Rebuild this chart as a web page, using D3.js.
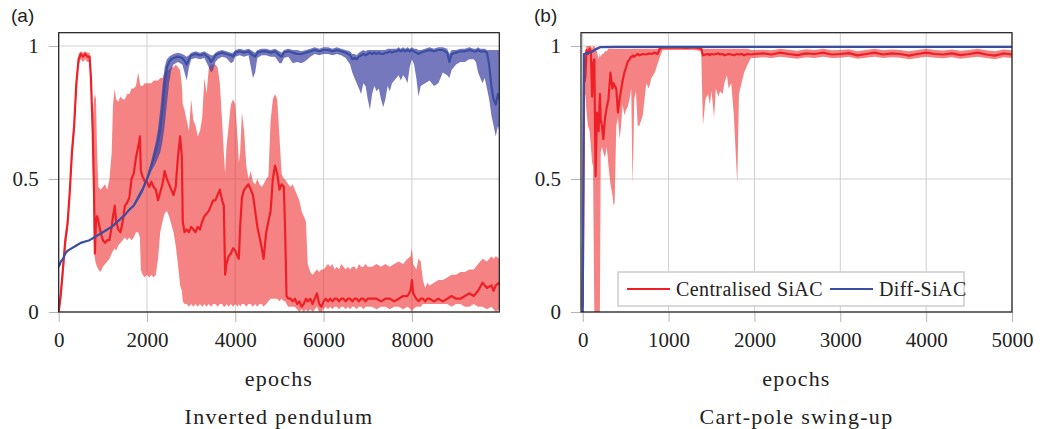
<!DOCTYPE html>
<html>
<head>
<meta charset="utf-8">
<script src="https://cdn.jsdelivr.net/npm/d3@7"></script>
<style>
  body { margin: 0; background: #fff; }
  svg { display: block; }
</style>
</head>
<body>
<div id="chart"></div>
<script>
// ---- data: inverted pendulum (a) ----
const pendRedX = [0,50,100,150,200,250,300,350,400,450,
  500,550,600,650,700,730,770,800,820,845,
  870,900,950,1000,1050,1100,1150,1200,1230,1270,
  1300,1350,1400,1450,1500,1550,1600,1650,1700,1750,
  1800,1840,1860,1900,1950,2000,2050,2100,2150,2200,
  2250,2300,2350,2400,2450,2500,2550,2600,2650,2700,
  2750,2790,2810,2850,2900,2950,3000,3050,3100,3150,
  3200,3250,3300,3350,3400,3450,3500,3550,3600,3650,
  3700,3740,3770,3800,3850,3900,3950,4000,4050,4080,
  4110,4150,4200,4250,4300,4350,4400,4450,4500,4550,
  4600,4640,4700,4750,4800,4850,4900,4950,5000,5050,
  5100,5130,5160,5200,5250,5300,5350,5400,5450,5500,
  5550,5600,5640,5700,5750,5800,5850,5900,5950,6000,
  6050,6100,6150,6200,6250,6300,6350,6400,6450,6500,
  6550,6600,6650,6700,6750,6800,6850,6900,6950,7000,
  7100,7200,7300,7400,7500,7600,7700,7800,7900,7970,
  8000,8030,8100,8150,8200,8250,8300,8350,8400,8500,
  8600,8700,8800,8900,9000,9100,9200,9300,9400,9500,
  9600,9700,9800,9850,9900,9980];
const pendRedMean = [0,0.07,0.17,0.27,0.33,0.45,0.6,0.7,0.86,0.95,
  0.97,0.96,0.97,0.96,0.96,0.88,0.68,0.45,0.22,0.35,
  0.36,0.34,0.3,0.27,0.26,0.27,0.27,0.32,0.36,0.4,
  0.34,0.31,0.3,0.34,0.4,0.41,0.43,0.5,0.52,0.58,
  0.62,0.66,0.53,0.51,0.49,0.49,0.47,0.49,0.47,0.46,
  0.42,0.45,0.48,0.53,0.5,0.48,0.46,0.44,0.47,0.58,
  0.66,0.58,0.34,0.3,0.31,0.3,0.32,0.31,0.3,0.32,
  0.31,0.34,0.36,0.37,0.38,0.4,0.42,0.42,0.44,0.46,
  0.42,0.4,0.14,0.18,0.21,0.22,0.24,0.23,0.21,0.2,
  0.32,0.43,0.46,0.47,0.48,0.46,0.44,0.38,0.32,0.28,
  0.24,0.2,0.3,0.34,0.38,0.5,0.55,0.52,0.46,0.48,
  0.47,0.3,0.06,0.05,0.05,0.04,0.05,0.03,0.04,0.02,
  0.03,0.05,0.04,0.05,0.03,0.05,0.07,0.03,0.02,0.04,
  0.05,0.04,0.05,0.04,0.05,0.05,0.04,0.05,0.05,0.04,
  0.05,0.05,0.04,0.05,0.05,0.04,0.05,0.05,0.04,0.05,
  0.05,0.05,0.04,0.05,0.05,0.04,0.05,0.06,0.06,0.08,
  0.12,0.07,0.05,0.04,0.05,0.05,0.04,0.05,0.05,0.04,
  0.05,0.04,0.05,0.06,0.05,0.05,0.06,0.07,0.06,0.08,
  0.11,0.09,0.1,0.08,0.1,0.11];
const pendRedLo = [0,0.04,0.13,0.23,0.3,0.42,0.56,0.66,0.82,0.93,
  0.95,0.94,0.95,0.94,0.94,0.85,0.6,0.22,0.2,0.18,
  0.17,0.16,0.15,0.17,0.18,0.19,0.2,0.22,0.23,0.24,
  0.23,0.25,0.26,0.27,0.28,0.27,0.28,0.27,0.28,0.3,
  0.3,0.28,0.16,0.14,0.13,0.14,0.13,0.14,0.13,0.14,
  0.2,0.3,0.34,0.37,0.38,0.36,0.33,0.3,0.25,0.18,
  0.1,0.08,0.04,0.03,0.03,0.02,0.03,0.02,0.03,0.02,
  0.03,0.02,0.03,0.02,0.03,0.02,0.03,0.03,0.02,0.03,
  0.03,0.02,0.02,0.03,0.02,0.03,0.02,0.03,0.02,0.03,
  0.02,0.03,0.03,0.02,0.03,0.03,0.02,0.03,0.02,0.03,
  0.03,0.02,0.03,0.04,0.05,0.05,0.05,0.05,0.04,0.05,
  0.04,0.04,0.03,0.02,0.02,0.02,0.02,0.01,0,0.01,
  0,0.01,0,0.01,0,0.01,0.02,0,0,0.01,
  0.02,0.01,0.02,0.01,0.02,0.02,0.01,0.02,0.02,0.01,
  0.02,0.01,0.02,0.02,0.01,0.02,0.02,0.01,0.02,0.02,
  0.02,0.01,0.02,0.02,0.01,0.02,0.02,0.01,0.02,0.01,
  0,0.01,0.02,0.02,0.02,0.03,0.03,0.03,0.03,0.03,
  0.03,0.03,0.03,0.02,0.03,0.03,0.02,0.02,0.03,0.02,
  0.02,0.01,0.02,0.01,0,0.01];
const pendRedHi = [0.02,0.1,0.2,0.3,0.36,0.48,0.63,0.73,0.88,0.97,
  0.98,0.975,0.98,0.975,0.975,0.9,0.72,0.8,0.82,0.8,
  0.6,0.47,0.46,0.47,0.48,0.46,0.5,0.6,0.78,0.84,
  0.8,0.79,0.81,0.8,0.8,0.82,0.82,0.84,0.84,0.85,
  0.9,0.86,0.85,0.85,0.86,0.86,0.86,0.86,0.87,0.87,
  0.87,0.88,0.88,0.9,0.91,0.91,0.92,0.92,0.93,0.92,
  0.91,0.85,0.78,0.76,0.72,0.68,0.8,0.72,0.7,0.66,
  0.68,0.73,0.88,0.82,0.92,0.93,0.93,0.93,0.92,0.86,
  0.72,0.6,0.52,0.62,0.7,0.78,0.8,0.78,0.66,0.56,
  0.6,0.75,0.68,0.55,0.5,0.53,0.49,0.48,0.5,0.48,
  0.47,0.48,0.5,0.51,0.72,0.8,0.82,0.8,0.66,0.52,
  0.5,0.5,0.49,0.48,0.47,0.48,0.46,0.44,0.42,0.38,
  0.36,0.34,0.18,0.15,0.14,0.15,0.16,0.15,0.16,0.16,
  0.17,0.18,0.17,0.18,0.16,0.17,0.16,0.18,0.17,0.16,
  0.17,0.16,0.17,0.17,0.16,0.18,0.17,0.17,0.18,0.17,
  0.17,0.18,0.17,0.18,0.17,0.18,0.19,0.18,0.2,0.21,
  0.24,0.18,0.16,0.2,0.19,0.12,0.09,0.11,0.1,0.11,
  0.12,0.12,0.13,0.14,0.14,0.15,0.15,0.16,0.16,0.18,
  0.2,0.19,0.21,0.2,0.21,0.2];

const pendBlueX = [0,50,100,150,200,300,400,500,600,700,
  800,900,1000,1100,1200,1300,1400,1500,1600,1700,
  1800,1900,2000,2100,2200,2250,2300,2350,2400,2450,
  2500,2550,2600,2700,2800,2850,2900,2950,3000,3100,
  3200,3300,3400,3450,3500,3550,3600,3700,3800,3900,
  3950,4000,4100,4200,4300,4400,4450,4500,4600,4700,
  4800,4900,5000,5050,5100,5200,5300,5400,5500,5600,
  5700,5800,5900,6000,6100,6200,6300,6400,6500,6600,
  6650,6700,6750,6800,6850,6900,6950,7000,7050,7100,
  7150,7200,7250,7300,7350,7400,7450,7500,7550,7600,
  7650,7700,7750,7800,7850,7900,7950,8000,8050,8100,
  8150,8200,8300,8400,8500,8600,8700,8800,8850,8900,
  9000,9100,9200,9300,9400,9450,9500,9550,9600,9650,
  9700,9750,9800,9850,9900,9950,9980];
const pendBlueMean = [0.17,0.19,0.2,0.22,0.23,0.24,0.25,0.26,0.265,0.27,
  0.28,0.29,0.3,0.31,0.32,0.335,0.35,0.365,0.385,0.4,
  0.43,0.46,0.5,0.55,0.61,0.64,0.69,0.76,0.86,0.92,
  0.94,0.95,0.955,0.96,0.955,0.945,0.93,0.95,0.965,0.97,
  0.965,0.97,0.955,0.94,0.95,0.965,0.97,0.975,0.97,0.965,
  0.96,0.975,0.98,0.975,0.98,0.965,0.96,0.975,0.98,0.98,
  0.975,0.98,0.965,0.96,0.975,0.98,0.975,0.97,0.97,0.975,
  0.98,0.985,0.98,0.985,0.985,0.98,0.985,0.98,0.975,0.965,
  0.95,0.955,0.95,0.96,0.965,0.97,0.965,0.97,0.975,0.97,
  0.975,0.97,0.975,0.97,0.97,0.975,0.975,0.98,0.975,0.98,
  0.98,0.985,0.98,0.985,0.98,0.985,0.98,0.985,0.98,0.975,
  0.97,0.975,0.98,0.985,0.98,0.985,0.985,0.975,0.94,0.97,
  0.975,0.98,0.98,0.985,0.98,0.98,0.985,0.98,0.98,0.98,
  0.975,0.93,0.85,0.8,0.78,0.82,0.8];
const pendBlueLo = [0.167,0.187,0.197,0.217,0.227,0.237,0.247,0.257,0.262,0.267,
  0.277,0.287,0.297,0.307,0.317,0.332,0.347,0.362,0.382,0.396,
  0.42,0.45,0.49,0.53,0.56,0.58,0.6,0.64,0.7,0.78,
  0.86,0.91,0.93,0.94,0.93,0.9,0.87,0.92,0.95,0.955,
  0.95,0.955,0.92,0.9,0.91,0.94,0.95,0.96,0.955,0.935,
  0.94,0.96,0.965,0.96,0.965,0.88,0.9,0.955,0.965,0.965,
  0.96,0.96,0.935,0.935,0.955,0.96,0.935,0.94,0.935,0.945,
  0.96,0.97,0.965,0.97,0.97,0.965,0.97,0.965,0.955,0.93,
  0.9,0.88,0.86,0.84,0.82,0.86,0.85,0.8,0.76,0.82,
  0.85,0.83,0.84,0.8,0.77,0.8,0.85,0.83,0.86,0.87,
  0.88,0.89,0.87,0.89,0.88,0.86,0.92,0.95,0.93,0.88,
  0.81,0.85,0.86,0.87,0.85,0.86,0.9,0.89,0.88,0.91,
  0.93,0.94,0.94,0.95,0.95,0.94,0.9,0.88,0.86,0.88,
  0.84,0.8,0.74,0.7,0.66,0.7,0.68];
const pendBlueHi = [0.173,0.193,0.203,0.223,0.233,0.243,0.253,0.263,0.268,0.273,
  0.283,0.293,0.303,0.313,0.323,0.338,0.353,0.368,0.388,0.404,
  0.44,0.47,0.51,0.57,0.64,0.69,0.76,0.85,0.92,0.95,
  0.96,0.965,0.97,0.975,0.97,0.965,0.96,0.965,0.975,0.98,
  0.975,0.98,0.97,0.965,0.965,0.975,0.98,0.985,0.98,0.975,
  0.975,0.985,0.99,0.985,0.99,0.98,0.975,0.985,0.99,0.99,
  0.985,0.99,0.98,0.975,0.985,0.99,0.985,0.985,0.98,0.985,
  0.99,0.995,0.99,0.995,0.995,0.99,0.995,0.99,0.985,0.98,
  0.97,0.97,0.965,0.975,0.98,0.985,0.98,0.985,0.985,0.985,
  0.985,0.985,0.985,0.985,0.985,0.985,0.99,0.99,0.99,0.99,
  0.99,0.995,0.99,0.995,0.99,0.995,0.99,0.995,0.99,0.99,
  0.985,0.985,0.99,0.995,0.99,0.995,0.995,0.99,0.97,0.985,
  0.985,0.99,0.99,0.995,0.99,0.99,0.995,0.99,0.99,0.99,
  0.985,0.985,0.985,0.985,0.985,0.985,0.985];

// ---- data: cart-pole swing-up (b) ----
const cartRedX = [0,15,30,45,60,80,95,110,120,135,
  150,165,185,200,210,225,240,260,280,300,
  323,346,360,372,391,410,430,447,465,485,
  505,523,545,565,580,590,600,620,640,660,
  700,740,770,800,840,870,900,930,1000,1100,
  1200,1300,1380,1400,1430,1460,1480,1500,1530,1550,
  1580,1600,1630,1650,1680,1700,1730,1760,1800,1820,
  1850,1880,1920,1960,2000,2100,2200,2300,2400,2500,
  2600,2700,2800,2900,3000,3100,3200,3300,3400,3500,
  3600,3700,3800,3900,4000,4100,4200,4300,4400,4500,
  4600,4700,4800,4900,5000];
const cartRedMean = [0.02,0.86,0.88,0.985,0.97,0.99,0.98,0.81,0.93,0.95,
  0.51,0.75,0.68,0.82,0.72,0.7,0.65,0.73,0.77,0.8,
  0.9,0.84,0.86,0.85,0.84,0.75,0.8,0.835,0.87,0.9,
  0.92,0.94,0.95,0.96,0.96,0.965,0.96,0.965,0.97,0.965,
  0.97,0.968,0.972,0.97,0.975,0.97,0.99,0.995,0.994,0.995,
  0.993,0.995,0.99,0.965,0.968,0.97,0.966,0.97,0.968,0.97,
  0.972,0.968,0.97,0.965,0.968,0.97,0.968,0.965,0.97,0.968,
  0.97,0.965,0.97,0.968,0.97,0.972,0.968,0.975,0.97,0.966,
  0.972,0.97,0.975,0.968,0.97,0.973,0.965,0.97,0.975,0.968,
  0.972,0.97,0.964,0.97,0.975,0.97,0.968,0.972,0.966,0.97,
  0.975,0.968,0.964,0.972,0.968];
const cartRedLo = [0,0.78,0.82,0.75,0.7,0.68,0.62,0.56,0.55,0,
  0,0,0,0,0.6,0.62,0.6,0.58,0.62,0.55,
  0.48,0.44,0.4,0.41,0.7,0.73,0.65,0.7,0.78,0.74,
  0.76,0.77,0.8,0.84,0.48,0.6,0.8,0.83,0.7,0.7,
  0.74,0.86,0.84,0.88,0.9,0.93,0.96,0.985,0.985,0.985,
  0.985,0.985,0.98,0.7,0.8,0.82,0.78,0.83,0.73,0.84,
  0.81,0.83,0.82,0.86,0.89,0.84,0.86,0.74,0.48,0.82,
  0.86,0.9,0.93,0.955,0.955,0.958,0.955,0.96,0.956,0.952,
  0.958,0.955,0.96,0.955,0.956,0.96,0.952,0.956,0.96,0.955,
  0.958,0.956,0.95,0.955,0.96,0.956,0.954,0.958,0.952,0.956,
  0.96,0.955,0.95,0.958,0.955];
const cartRedHi = [0.05,0.95,0.98,1,1,1,1,0.99,1,1,
  0.99,0.98,0.95,0.97,0.96,0.97,0.97,0.98,0.98,0.99,
  0.99,0.99,0.99,0.99,0.99,0.99,0.99,0.99,0.99,0.99,
  0.99,0.99,0.99,0.99,0.99,0.99,0.99,0.99,0.99,0.99,
  0.99,0.99,0.99,0.99,0.99,0.99,1,1,1,1,
  1,1,1,0.99,0.99,0.99,0.99,0.99,0.99,0.99,
  0.99,0.99,0.99,0.99,0.99,0.99,0.99,0.99,0.99,0.99,
  0.99,0.99,0.99,0.985,0.985,0.986,0.984,0.99,0.986,0.982,
  0.988,0.985,0.99,0.984,0.985,0.988,0.98,0.985,0.99,0.984,
  0.987,0.985,0.98,0.985,0.99,0.985,0.983,0.987,0.982,0.985,
  0.99,0.984,0.98,0.987,0.984];

const cartBlueX = [0,15,40,90,165,210,400,1000,2000,3000,4000,5000];
const cartBlueMean = [0,0.97,0.972,0.975,0.99,0.996,0.997,0.997,0.997,0.997,0.997,0.997];
const cartBlueLo = [0,0.965,0.968,0.97,0.985,0.993,0.995,0.995,0.995,0.995,0.995,0.995];
const cartBlueHi = [0,0.975,0.976,0.98,0.995,0.999,0.999,0.999,0.999,0.999,0.999,0.999];

const pendTicks = [0, 2000, 4000, 6000, 8000];
const cartTicks = [0, 1000, 2000, 3000, 4000, 5000];
const yTicks = [0, 0.5, 1];
const seriesNames = ["Centralised SiAC", "Diff-SiAC"];

// ---- styling ----
const RED = "#ee1f26", RED_FILL = "#ee2a2a";
const BLUE = "#3a4fa2", BLUE_FILL = "#3a3f9f";
const GRID = "#cfcfcf";
const SERIF = "'Liberation Serif'";

const W = 1061, H = 429;
const svg = d3.select("#chart").append("svg")
  .attr("width", W).attr("height", H);

const y = d3.scaleLinear().domain([0, 1.05]).range([312, 32.7]);

function toRows(xs, mean, lo, hi) {
  return xs.map((d, i) => ({ x: d, m: mean[i], lo: lo[i], hi: hi[i] }));
}

function drawPanel(cfg) {
  const x = d3.scaleLinear().domain(cfg.domain).range(cfg.range);
  const [left, right] = cfg.range;
  const top = y(1.05), bottom = y(0);
  const g = svg.append("g");

  // grid
  g.append("g")
    .selectAll("line").data(cfg.ticks).join("line")
    .attr("x1", d => x(d)).attr("x2", d => x(d))
    .attr("y1", top).attr("y2", bottom)
    .attr("stroke", GRID).attr("stroke-width", 1);
  g.append("g")
    .selectAll("line").data(yTicks).join("line")
    .attr("x1", left).attr("x2", right)
    .attr("y1", d => y(d)).attr("y2", d => y(d))
    .attr("stroke", GRID).attr("stroke-width", 1);

  // axes (ticks + labels)
  const xAxis = g.append("g")
    .attr("transform", `translate(0,${bottom})`)
    .call(d3.axisBottom(x).tickValues(cfg.ticks).tickSize(10).tickPadding(10)
      .tickFormat(d3.format("d")));
  const yAxis = g.append("g")
    .attr("transform", `translate(${left},0)`)
    .call(d3.axisLeft(y).tickValues(yTicks).tickSize(10).tickPadding(10)
      .tickFormat(d => d === 0.5 ? "0.5" : d3.format("d")(d)));
  [xAxis, yAxis].forEach(a => {
    a.select(".domain").remove();
    a.selectAll(".tick line").attr("stroke", "#b5b5b5");
    a.selectAll(".tick text")
      .style("font-family", SERIF).style("font-size", "21px").attr("fill", "#222");
  });

  // clip
  const clipId = "clip-" + cfg.id;
  svg.append("clipPath").attr("id", clipId)
    .append("rect").attr("x", left).attr("y", top)
    .attr("width", right - left).attr("height", bottom - top);
  const plot = g.append("g").attr("clip-path", `url(#${clipId})`);

  const area = d3.area().x(d => x(d.x)).y0(d => y(d.lo)).y1(d => y(d.hi));
  const line = d3.line().x(d => x(d.x)).y(d => y(d.m));

  plot.append("path").datum(cfg.red)
    .attr("d", area).attr("fill", RED_FILL).attr("fill-opacity", 0.58);
  plot.append("path").datum(cfg.blue)
    .attr("d", area).attr("fill", BLUE_FILL).attr("fill-opacity", 0.7);
  plot.append("path").datum(cfg.red)
    .attr("d", line).attr("fill", "none").attr("stroke", RED)
    .attr("stroke-width", 2.2).attr("stroke-linejoin", "round");
  plot.append("path").datum(cfg.blue)
    .attr("d", line).attr("fill", "none").attr("stroke", BLUE)
    .attr("stroke-width", 2.2).attr("stroke-linejoin", "round");

  // box
  g.append("rect")
    .attr("x", left).attr("y", top)
    .attr("width", right - left).attr("height", bottom - top)
    .attr("fill", "none").attr("stroke", "#1a1a1a").attr("stroke-width", 1.2);

  const cx = (x(cfg.domain[0]) + right) / 2;
  g.append("text").attr("x", cx).attr("y", 386)
    .attr("text-anchor", "middle")
    .style("font-family", SERIF).style("font-size", "22px")
    .style("letter-spacing", "1.2px").attr("fill", "#222")
    .text("epochs");
  g.append("text").attr("x", cx).attr("y", 424)
    .attr("text-anchor", "middle")
    .style("font-family", SERIF).style("font-size", "22px")
    .style("letter-spacing", "1.3px").attr("fill", "#222")
    .text(cfg.title);
  g.append("text").attr("x", cfg.labelX).attr("y", 22)
    .style("font-family", "'Liberation Sans'").style("font-size", "19px")
    .attr("fill", "#222")
    .text(cfg.label);
  return { g, x };
}

drawPanel({
  id: "a", label: "(a)", labelX: 11, title: "Inverted pendulum",
  domain: [0, 9980], range: [58.7, 499.3], ticks: pendTicks,
  red: toRows(pendRedX, pendRedMean, pendRedLo, pendRedHi),
  blue: toRows(pendBlueX, pendBlueMean, pendBlueLo, pendBlueHi)
});

const right = drawPanel({
  id: "b", label: "(b)", labelX: 534, title: "Cart-pole swing-up",
  domain: [-20, 5000], range: [581, 1012], ticks: cartTicks,
  red: toRows(cartRedX, cartRedMean, cartRedLo, cartRedHi),
  blue: toRows(cartBlueX, cartBlueMean, cartBlueLo, cartBlueHi)
});

// legend (panel b)
const leg = right.g.append("g").attr("transform", "translate(618,272)");
leg.append("rect").attr("width", 346).attr("height", 34)
  .attr("fill", "#fff").attr("stroke", "#cccccc").attr("stroke-width", 1.5);
const legItems = [
  { name: seriesNames[0], color: RED, x: 9 },
  { name: seriesNames[1], color: BLUE, x: 212 }
];
legItems.forEach(it => {
  leg.append("line").attr("x1", it.x).attr("x2", it.x + 43)
    .attr("y1", 17).attr("y2", 17)
    .attr("stroke", it.color).attr("stroke-width", 2.2);
  leg.append("text").attr("x", it.x + 49).attr("y", 24)
    .style("font-family", SERIF).style("font-size", "20px")
    .style("letter-spacing", "0.4px").attr("fill", "#222")
    .text(it.name);
});
</script>
</body>
</html>
